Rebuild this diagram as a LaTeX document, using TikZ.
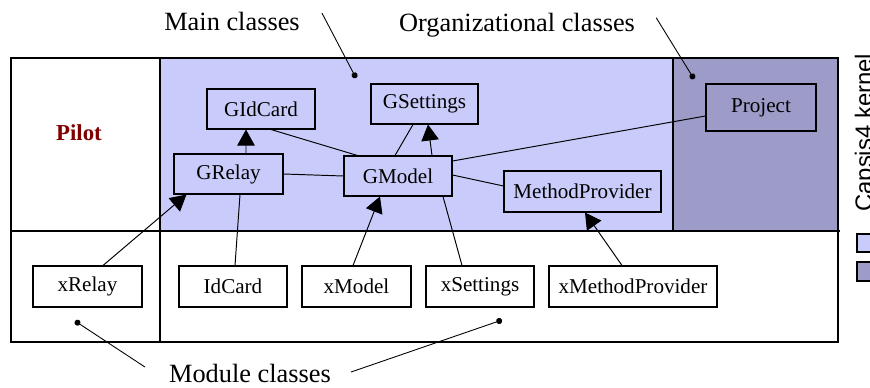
\documentclass[tikz,border=0pt]{standalone}
\usepackage{fontspec}
\setmainfont{Liberation Serif}
\newfontfamily\kernelfont{Liberation Sans}
\usepackage{xcolor}
\usepackage{tikz}
\usetikzlibrary{shapes,arrows,positioning,calc,arrows.meta}

\definecolor{mainblue}{HTML}{C9CCFA}
\definecolor{orgblue}{HTML}{9D9BC8}
\definecolor{pilotred}{HTML}{800000}

\tikzset{
  cls/.style={draw, rectangle, line width=0.6pt, minimum height=8mm, inner sep=0pt, font=\fontsize{12}{14}\selectfont},
  link/.style={line width=0.55pt},
  inherit/.style={line width=0.55pt, -{Triangle[length=3.2mm, width=3.5mm]}},
  note/.style={line width=0.5pt, -{Circle[length=1.2mm]}},
  notelbl/.style={font=\fontsize{15}{18}\selectfont, anchor=base}
}

\begin{document}
\begin{tikzpicture}[x=0.2mm, y=-0.2mm]
    \clip (0,0) rectangle (870,387);

    % regions
    \fill[mainblue] (160,58) rectangle (673,231);
    \fill[orgblue] (673,58) rectangle (838,231);
    \draw[line width=0.6pt] (11,58) rectangle (838,342);
    \draw[line width=0.6pt] (673,58) -- (673,231);
    \draw[line width=1.4pt] (160,58) -- (160,342);
    \draw[line width=1.4pt] (11,231) -- (840,231);

    \node [text=pilotred, font=\fontsize{13}{15}\selectfont\bfseries] (pilot) at (79,133) {Pilot};

    % Main classes
    \node [cls, minimum width=21.6mm] (gidcard) at (261,109) {GIdCard};
    \node [cls, minimum width=21.4mm] (gsettings) at (424.5,104) {GSettings};
    \node [cls, minimum width=21.8mm] (grelay) at (228.5,174) {GRelay};
    \node [cls, minimum width=21.6mm] (gmodel) at (398,176) {GModel};
    \node [cls, minimum width=31.4mm, minimum height=8.2mm] (methodprovider) at (582.5,191.5) {MethodProvider};

    % Organizational classes
    \node [cls, minimum width=22mm, minimum height=9.4mm] (project) at (761,107.5) {Project};

    % Module classes
    \node [cls, minimum width=21.8mm, minimum height=8.2mm] (xrelay) at (87.5,286.5) {xRelay};
    \node [cls, minimum width=21.6mm, minimum height=8.2mm] (idcard) at (233,286.5) {IdCard};
    \node [cls, minimum width=21.8mm, minimum height=8.2mm] (xmodel) at (356.5,286.5) {xModel};
    \node [cls, minimum width=21.6mm, minimum height=8.2mm] (xsettings) at (480,286.5) {xSettings};
    \node [cls, minimum width=33.6mm, minimum height=8.2mm] (xmethodprovider) at (633,286.5) {xMethodProvider};

    % links
    \draw [inherit] ($(grelay.north)+(17.5,0)$) -- ($(gidcard.south)+(-15,0)$);
    \draw [link] ($(gidcard.south)+(10,0)$) -- ($(gmodel.north west)+(14,0)$);
    \draw [link] (grelay.east) -- (gmodel.west);
    \draw [link] ($(gmodel.north)+(-3,0)$) -- ($(gsettings.south)+(-11.5,0)$);
    \draw [inherit] ($(gmodel.north)+(34,0)$) -- ($(gsettings.south)+(3.5,0)$);
    \draw [link] ($(gmodel.east)+(0,-15)$) -- ($(project.west)+(0,8.5)$);
    \draw [link] ($(gmodel.east)+(0,-1)$) -- ($(methodprovider.west)+(0,-5.5)$);
    \draw [inherit] ($(xrelay.north)+(15.5,0)$) -- ($(grelay.south west)+(13,0)$);
    \draw [link] ($(idcard.north)+(2,0)$) -- ($(grelay.south)+(11.5,0)$);
    \draw [inherit] ($(xmodel.north)+(-3.5,0)$) -- ($(gmodel.south)+(-18,0)$);
    \draw [link] ($(xsettings.north)+(-18,0)$) -- ($(gmodel.south)+(45,0)$);
    \draw [inherit] ($(xmethodprovider.north)+(-11,0)$) -- ($(methodprovider.south)+(2.5,0)$);

    % notes
    \node [notelbl] (mainlbl) at (232,30) {Main classes};
    \node [notelbl] (orglbl) at (517,31) {Organizational classes};
    \node [notelbl] (modlbl) at (250,382) {Module classes};
    \coordinate (maindot) at (356,78);
    \coordinate (orgdot) at (694,79);
    \coordinate (moddotl) at (75,321);
    \coordinate (moddotr) at (502,320);
    \draw [note] ($(mainlbl.east)+(16,-8)$) -- (maindot);
    \draw [note] ($(orglbl.east)+(15,-7)$) -- (orgdot);
    \draw [note] ($(modlbl.west)+(-18,-6)$) -- (moddotl);
    \draw [note] ($(modlbl.east)+(14,-1)$) -- (moddotr);

    % legend
    \node [rotate=90, anchor=base west, font=\kernelfont\fontsize{13.6}{16}\selectfont] (kernel) at (872,218) {Capsis4 kernel};
    \draw [fill=mainblue, line width=0.6pt] (857,234) rectangle (885,252);
    \draw [fill=orgblue, line width=0.6pt] (857,262) rectangle (885,281);
\end{tikzpicture}
\end{document}
